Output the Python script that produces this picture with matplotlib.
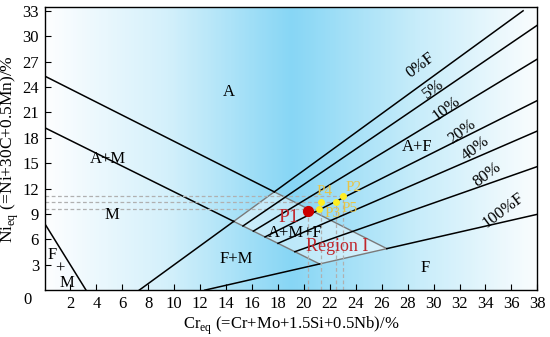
import numpy as np
import matplotlib.pyplot as plt
from matplotlib.colors import LinearSegmentedColormap
from matplotlib.patches import Polygon

plt.rcParams['font.family'] = ['Liberation Serif', 'DejaVu Serif']
plt.rcParams['mathtext.fontset'] = 'custom'
plt.rcParams['mathtext.rm'] = 'Liberation Serif'

# phase boundary lines (Cr_eq, Ni_eq) end points
a_am = [(0, 25.3), (26.4, 4.9)]      # A / A+M
am_m = [(0, 19.2), (21.2, 3.1)]      # A+M / M
f0 = [(7.3, 0), (36.9, 33)]          # 0%F
f100 = [(12.35, 0), (38, 8.96)]      # 100%F
fm = [(0, 7.9), (3.2, 0)]            # F+M

# intermediate ferrite lines: start Cr on A+M/M line, Ni at right edge
ferr_names = ['5%', '10%', '20%', '40%', '80%']
ferr_cr0 = [15.3, 16.1, 17.0, 18.0, 19.3]
ferr_ni1 = [31.3, 27.3, 22.4, 18.8, 14.6]

# measured points
pt_names = ['P1', 'P2', 'P3', 'P4', 'P5']
pt_cr = [20.3, 23.05, 21.2, 21.3, 22.5]
pt_ni = [9.3, 11.1, 9.6, 10.4, 10.45]

x_ticks = list(range(2, 39, 2))
y_ticks = list(range(3, 34, 3))


def line_eq(l):
    (x0, y0), (x1, y1) = l
    m = (y1 - y0) / (x1 - x0)
    return m, y0 - m * x0


def cross(l1, l2):
    m1, b1 = line_eq(l1)
    m2, b2 = line_eq(l2)
    x = (b2 - b1) / (m1 - m2)
    return (x, m1 * x + b1)


top = cross(a_am, f0)
left = cross(am_m, f0)
bottom = cross(am_m, f100)
right = cross(a_am, f100)

fig = plt.figure(figsize=(5.5, 3.37), dpi=100)
ax = fig.add_axes([0.081, 0.139, 0.896, 0.839])
ax.set_xlim(0, 38)
ax.set_ylim(0, 33.4)

# background gradient
cmap = LinearSegmentedColormap.from_list(
    'bg', [(0, '#fdfeff'), (0.25, '#d3f0fb'), (0.5, '#87d6f5'),
           (0.75, '#c6ecfa'), (1, '#fafdfe')])
grad = np.linspace(0, 1, 300).reshape(1, -1)
ax.imshow(grad, extent=[0, 38, 0, 33.4], aspect='auto', cmap=cmap,
          zorder=0, origin='lower')

# region I parallelogram
poly = Polygon([left, top, right, bottom], closed=True, facecolor='white',
               alpha=0.45, edgecolor='none', zorder=1)
ax.add_patch(poly)
gc = '#7a7a7a'
for a, b in [(left, top), (top, right), (right, bottom), (bottom, left)]:
    ax.plot([a[0], b[0]], [a[1], b[1]], color=gc, lw=1.0, zorder=2)

k = 'black'
lw = 1.1
ax.plot([a_am[0][0], top[0]], [a_am[0][1], top[1]], color=k, lw=lw)
ax.plot([am_m[0][0], left[0]], [am_m[0][1], left[1]], color=k, lw=lw)
ax.plot([f0[0][0], left[0]], [f0[0][1], left[1]], color=k, lw=lw)
ax.plot([top[0], f0[1][0]], [top[1], f0[1][1]], color=k, lw=lw)
ax.plot([f100[0][0], bottom[0]], [f100[0][1], bottom[1]], color=k, lw=lw)
ax.plot([right[0], f100[1][0]], [right[1], f100[1][1]], color=k, lw=lw)
ax.plot([p[0] for p in fm], [p[1] for p in fm], color=k, lw=lw)

m, b = line_eq(am_m)
for c0, n1 in zip(ferr_cr0, ferr_ni1):
    ax.plot([c0, 38], [m * c0 + b, n1], color=k, lw=lw, zorder=3)

# dashed guide lines
dc = '#b0b0b0'
for y in sorted(set([pt_ni[1], pt_ni[2], pt_ni[3]])):
    xs = [c for c, n in zip(pt_cr, pt_ni) if abs(n - y) < 0.2]
    ax.plot([0, max(xs)], [y, y], color=dc, lw=0.9, ls=(0, (3, 2)), zorder=2)
for x in [pt_cr[0], pt_cr[3], pt_cr[4], pt_cr[1]]:
    ys = [n for c, n in zip(pt_cr, pt_ni) if abs(c - x) < 0.2]
    ax.plot([x, x], [0, max(ys)], color=dc, lw=0.9, ls=(0, (3, 2)), zorder=2)

# points
ax.scatter(pt_cr[0], pt_ni[0], s=50, color='#cc0000', zorder=5)
ax.scatter(pt_cr[1:], pt_ni[1:], s=16, color='#ffee22', zorder=5)
ax.text(18.8, 8.55, 'P1', color='#c0272d', fontsize=14, ha='center',
        va='center', zorder=6)
yc = '#e8c547'
for name, tx, ty in [('P2', 23.8, 12.1), ('P3', 22.2, 9.0),
                     ('P4', 21.6, 11.6), ('P5', 23.5, 9.7)]:
    ax.text(tx, ty, name, color=yc, fontsize=11, ha='center', va='center',
            zorder=6)

# region labels
fs = 12
for s, tx, ty in [('A', 14.2, 23.4), ('A+M', 4.9, 15.5), ('M', 5.2, 8.9),
                  ('F', 0.6, 4.2), ('+', 1.2, 2.6), ('M', 1.7, 0.9),
                  ('F+M', 14.8, 3.7), ('A+M+F', 19.3, 6.7),
                  ('A+F', 28.7, 16.9), ('F', 29.35, 2.65)]:
    ax.text(tx, ty, s, fontsize=fs, ha='center', va='center', zorder=6)
ax.text(22.6, 5.2, 'Region I', fontsize=13, color='#c0272d', ha='center',
        va='center', zorder=6)

for s, tx, ty in [('0%F', 29.0, 26.5), ('5%', 30.0, 23.8),
                  ('10%', 31.0, 21.4), ('20%', 32.2, 18.7),
                  ('40%', 33.2, 16.7), ('80%', 34.1, 13.6),
                  ('100%F', 35.4, 9.4)]:
    ax.text(tx, ty, s, fontsize=fs, rotation=37, ha='center', va='center',
            rotation_mode='anchor', zorder=6)

ax.set_xticks(x_ticks)
ax.set_yticks(y_ticks)
ax.tick_params(direction='in', labelsize=12, length=4, width=0.8, pad=4)
ax.text(-1.0, -1.2, '0', fontsize=12, ha='right', va='center',
        transform=ax.transData)
for sp in ax.spines.values():
    sp.set_linewidth(1.0)

ax.set_xlabel(r'Cr$_{\mathrm{eq}}$ (=Cr+Mo+1.5Si+0.5Nb)/%', fontsize=12,
              labelpad=2)
ax.set_ylabel(r'Ni$_{\mathrm{eq}}$ (=Ni+30C+0.5Mn)/%', fontsize=12.5,
              labelpad=1)

fig.savefig('out.png', dpi=100)
